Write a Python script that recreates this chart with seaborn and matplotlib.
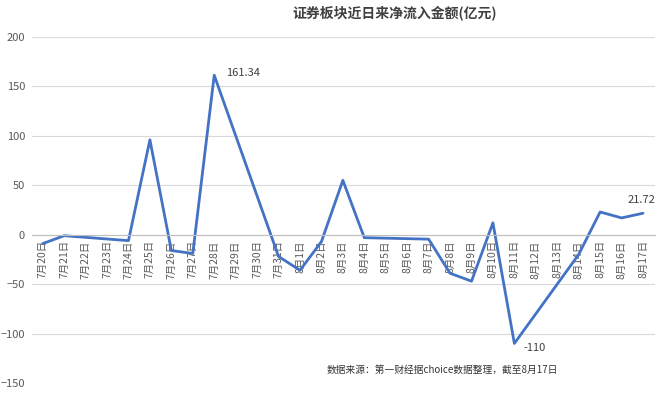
import matplotlib
matplotlib.use("Agg")
import matplotlib.pyplot as plt
import seaborn as sns
import pandas as pd

# ---- data ----
tick_labels = ["7月20日", "7月21日", "7月22日", "7月23日", "7月24日", "7月25日",
               "7月26日", "7月27日", "7月28日", "7月29日", "7月30日", "7月31日",
               "8月1日", "8月2日", "8月3日", "8月4日", "8月5日", "8月6日",
               "8月7日", "8月8日", "8月9日", "8月10日", "8月11日", "8月12日",
               "8月13日", "8月14日", "8月15日", "8月16日", "8月17日"]
trade_dates = ["2017-07-20", "2017-07-21", "2017-07-24", "2017-07-25", "2017-07-26",
               "2017-07-27", "2017-07-28", "2017-07-31", "2017-08-01", "2017-08-02",
               "2017-08-03", "2017-08-04", "2017-08-07", "2017-08-08", "2017-08-09",
               "2017-08-10", "2017-08-11", "2017-08-14", "2017-08-15", "2017-08-16",
               "2017-08-17"]
net_inflow = [-9, -1, -6, 96, -16, -19, 161.34, -22, -36, -7, 55, -3, -4.5,
              -39, -47, 12, -110, -20, 23, 17, 21.72]
labels_shown = {"2017-07-28": "161.34", "2017-08-11": "-110", "2017-08-17": "21.72"}
title = "证券板块近日来净流入金额(亿元)"
source = "数据来源：第一财经据choice数据整理，截至8月17日"

sns.set_theme(style="white")
plt.rcParams['font.family'] = ['Noto Sans CJK SC', 'DejaVu Sans']

dates = pd.to_datetime(trade_dates)
start = pd.Timestamp("2017-07-20")
df = pd.DataFrame({"pos": (dates - start).days, "value": net_inflow, "date": trade_dates})

fig = plt.figure(figsize=(6.6, 3.93), dpi=100)
ax = fig.add_axes([32/660, 1-383/393, (655-32)/660, (383-37)/393])

sns.lineplot(data=df, x="pos", y="value", ax=ax, color="#4472C4", linewidth=2.0)

ax.set_xlim(-0.37, 28.56)
ax.set_ylim(-150, 200)
ax.set_yticks([-150, -100, -50, 0, 50, 100, 150, 200])
ax.set_xticks(range(len(tick_labels)))
ax.set_xticks([i + 0.5 for i in range(-1, len(tick_labels))], minor=True)
ax.tick_params(axis="y", labelsize=8, labelcolor="#595959", length=0, pad=5)
ax.tick_params(axis="x", which="major", length=0, pad=4, labelrotation=90,
               labelsize=7.5, labelcolor="#595959")
ax.tick_params(axis="x", which="minor", length=4, color="#BFBFBF", width=0.8, direction="out")
ax.set_xticklabels(tick_labels, rotation=90, fontsize=7.5, color="#595959")
ax.set_xlabel("")
ax.set_ylabel("")
ax.yaxis.grid(True, color="#D9D9D9", linewidth=0.8)
ax.xaxis.grid(False)
for s in ["top", "right", "left"]:
    ax.spines[s].set_visible(False)
ax.spines["bottom"].set_position(("data", 0))
ax.spines["bottom"].set_color("#BFBFBF")
ax.spines["bottom"].set_linewidth(0.8)
ax.set_axisbelow(True)

offsets = {"161.34": (12, 2, "left"), "-110": (9, -5, "left"), "21.72": (-2, 13, "center")}
for d, txt in labels_shown.items():
    row = df[df["date"] == d].iloc[0]
    dx, dy, ha = offsets[txt]
    ax.annotate(txt, (row["pos"], row["value"]), xytext=(dx, dy),
                textcoords="offset pixels", ha=ha, va="center",
                fontsize=8, color="#404040")

fig.text(395/660, 1-13/393, title, ha="center", va="center",
         fontsize=10, fontweight="bold", color="#404040")
fig.text(327/660, 1-370/393, source, ha="left", va="center",
         fontsize=7, color="#333333")

fig.savefig("out.png", dpi=100)
